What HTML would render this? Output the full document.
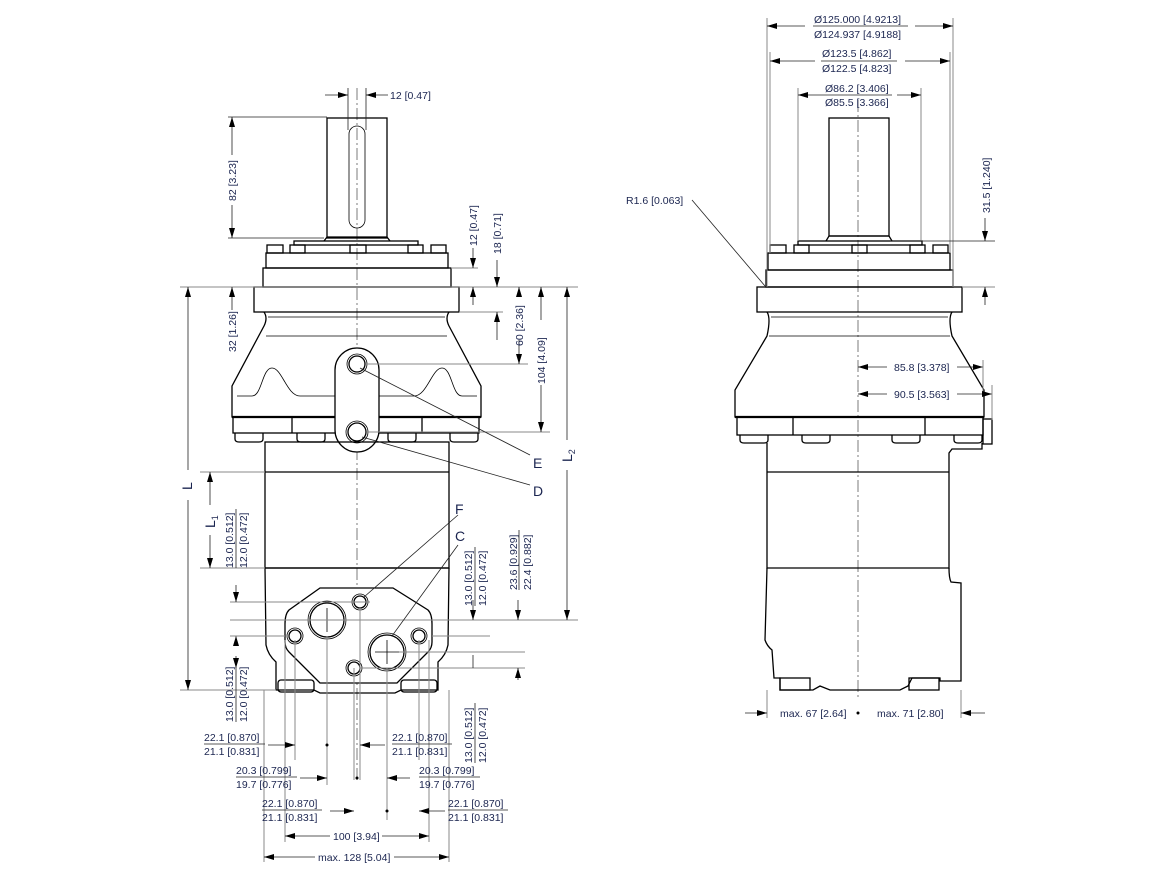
<!DOCTYPE html>
<html><head><meta charset="utf-8"><style>
html,body{margin:0;padding:0;background:#fff;}
svg{display:block;}
text{font-family:"Liberation Sans",sans-serif;font-size:10.5px;fill:#1b2550;}
.o{fill:none;stroke:#000;stroke-width:1.3;}
.t{fill:none;stroke:#000;stroke-width:2.2;}
.th{fill:none;stroke:#000;stroke-width:0.8;}
.d{fill:none;stroke:#8a8a8a;stroke-width:1;}
.dk{fill:none;stroke:#222;stroke-width:0.8;}
.c{fill:none;stroke:#444;stroke-width:0.7;stroke-dasharray:12 3 2 3;}
.big{font-size:14px;}
</style></head><body>
<svg width="1165" height="874" viewBox="0 0 1165 874" xmlns="http://www.w3.org/2000/svg">
<defs>
<marker id="a" viewBox="0 0 10 6" refX="10" refY="3" markerWidth="10" markerHeight="6" orient="auto-start-reverse" markerUnits="userSpaceOnUse"><path d="M0,0 L10,3 L0,6z" fill="#000"/></marker>
</defs>

<!-- ============ LEFT VIEW ============ -->
<line class="c" x1="357" y1="88" x2="357" y2="780"/>
<rect class="o" x="327" y="118" width="60" height="120"/>
<rect class="th" x="349" y="126" width="16" height="102" rx="8"/>
<path class="o" d="M324,241 L327,237 L387,237 L390,241"/>
<rect class="o" x="294" y="241" width="124" height="4"/>
<rect class="o" x="267" y="245" width="16" height="8"/><rect class="o" x="290" y="245" width="15" height="8"/>
<rect class="o" x="350" y="245" width="16" height="8"/><rect class="o" x="408" y="245" width="15" height="8"/>
<rect class="o" x="431" y="245" width="15" height="8"/>
<rect class="o" x="266" y="253" width="182" height="15"/>
<rect class="o" x="263" y="268" width="188" height="19"/>
<rect class="o" x="254" y="287" width="205" height="25"/>
<path class="o" d="M264,312 Q268,318 264,326 L232,386 L232,417 L481,417 L481,386 L449,326 Q445,318 449,312"/>
<line class="th" x1="268" y1="317" x2="445" y2="317"/>
<line class="th" x1="266" y1="336" x2="447" y2="336"/>
<path class="th" d="M237,396 L252,396 C262,396 262,368 272,368 C282,368 287,396 300,396 L335,396"/>
<path class="th" d="M379,396 L414,396 C427,396 432,368 442,368 C452,368 452,396 462,396 L477,396"/>
<line class="t" x1="232" y1="417" x2="481" y2="417"/>
<rect class="o" x="233" y="417" width="246" height="16"/>
<line class="o" x1="292" y1="417" x2="292" y2="433"/><line class="o" x1="422" y1="417" x2="422" y2="433"/>
<g class="o"><path d="M235,433 v6 q0,3 4,3 h20 q4,0 4,-3 v-6"/><path d="M297,433 v6 q0,3 4,3 h20 q4,0 4,-3 v-6"/><path d="M388,433 v6 q0,3 4,3 h20 q4,0 4,-3 v-6"/><path d="M450,433 v6 q0,3 4,3 h20 q4,0 4,-3 v-6"/></g>
<rect class="o" x="335" y="348" width="44" height="104" rx="22" style="fill:#fff"/>
<circle class="o" cx="357" cy="364" r="8"/><circle class="th" cx="357" cy="364" r="10"/>
<circle class="o" cx="357" cy="432" r="9"/><circle class="th" cx="357" cy="432" r="11"/>
<rect class="o" x="265" y="442" width="184" height="126"/>
<line class="o" x1="265" y1="472" x2="449" y2="472"/>
<line class="o" x1="265" y1="568" x2="449" y2="568"/>
<path class="o" d="M265,568 L266,645 Q268,655 276,662 L276,690 L314,690 L320,693 L395,693 L401,690 L438,690 L438,662 Q446,655 448,645 L449,568"/>
<path class="o" d="M320,588 L393,588 L428,610 Q432,614 432,624 L432,642 Q432,648 428,652 L397,683 L320,683 L289,652 Q285,648 285,642 L285,624 Q285,614 289,610 Z" style="fill:#fff"/>
<g class="o"><rect x="278" y="680" width="36" height="12" rx="3"/><rect x="401" y="680" width="36" height="12" rx="3"/></g>
<circle class="o" cx="327" cy="620" r="17"/><circle class="th" cx="327" cy="620" r="19"/>
<circle class="o" cx="387" cy="652" r="17"/><circle class="th" cx="387" cy="652" r="19"/>
<circle class="o" cx="360" cy="602" r="6"/><circle class="th" cx="360" cy="602" r="8"/>
<circle class="o" cx="354" cy="668" r="6"/><circle class="th" cx="354" cy="668" r="8"/>
<circle class="o" cx="295" cy="636" r="6"/><circle class="th" cx="295" cy="636" r="8"/>
<circle class="o" cx="419" cy="636" r="6"/><circle class="th" cx="419" cy="636" r="8"/>
<g class="th"><line x1="315" y1="620" x2="339" y2="620"/><line x1="327" y1="608" x2="327" y2="632"/><line x1="375" y1="652" x2="399" y2="652"/><line x1="387" y1="640" x2="387" y2="664"/></g>

<!-- left dims -->
<line class="dk" x1="348" y1="88" x2="348" y2="130"/><line class="dk" x1="366" y1="88" x2="366" y2="130"/>
<line class="dk" x1="325" y1="95" x2="348" y2="95" marker-end="url(#a)"/>
<line class="dk" x1="388" y1="95" x2="366" y2="95" marker-end="url(#a)"/>
<text x="390" y="99">12 [0.47]</text>
<line class="dk" x1="228" y1="117" x2="327" y2="117"/><line class="dk" x1="228" y1="238" x2="324" y2="238"/>
<line class="dk" x1="232" y1="155" x2="232" y2="117" marker-end="url(#a)"/><line class="dk" x1="232" y1="205" x2="232" y2="238" marker-end="url(#a)"/>
<text transform="translate(236,201) rotate(-90)">82 [3.23]</text>
<line class="d" x1="451" y1="268" x2="478" y2="268"/>
<line class="d" x1="180" y1="287" x2="578" y2="287"/>
<line class="dk" x1="473" y1="248" x2="473" y2="268" marker-end="url(#a)"/><line class="dk" x1="473" y1="305" x2="473" y2="287" marker-end="url(#a)"/>
<text transform="translate(477,246) rotate(-90)">12 [0.47]</text>
<line class="dk" x1="497" y1="260" x2="497" y2="287" marker-end="url(#a)"/>
<text transform="translate(501,254) rotate(-90)">18 [0.71]</text>
<line class="d" x1="459" y1="312" x2="503" y2="312"/>
<line class="dk" x1="497" y1="340" x2="497" y2="312" marker-end="url(#a)"/>
<line class="d" x1="367" y1="364" x2="528" y2="364"/>
<line class="dk" x1="519" y1="295" x2="519" y2="287" marker-end="url(#a)"/><line class="dk" x1="519" y1="340" x2="519" y2="364" marker-end="url(#a)"/>
<text transform="translate(523,346) rotate(-90)">60 [2.36]</text>
<line class="d" x1="367" y1="432" x2="550" y2="432"/>
<line class="dk" x1="541" y1="320" x2="541" y2="287" marker-end="url(#a)"/><line class="dk" x1="541" y1="385" x2="541" y2="432" marker-end="url(#a)"/>
<text transform="translate(545,384) rotate(-90)">104 [4.09]</text>
<line class="d" x1="449" y1="620" x2="578" y2="620"/>
<line class="dk" x1="567" y1="440" x2="567" y2="287" marker-end="url(#a)"/><line class="dk" x1="567" y1="470" x2="567" y2="620" marker-end="url(#a)"/>
<text class="big" transform="translate(572,462) rotate(-90)">L<tspan font-size="9" dy="3">2</tspan></text>
<line class="d" x1="180" y1="690" x2="276" y2="690"/>
<line class="dk" x1="188" y1="470" x2="188" y2="287" marker-end="url(#a)"/><line class="dk" x1="188" y1="500" x2="188" y2="690" marker-end="url(#a)"/>
<text class="big" transform="translate(192,490) rotate(-90)">L</text>
<line class="dk" x1="232" y1="310" x2="232" y2="287" marker-end="url(#a)"/>
<text transform="translate(236,352) rotate(-90)">32 [1.26]</text>
<line class="d" x1="200" y1="472" x2="265" y2="472"/><line class="d" x1="200" y1="568" x2="265" y2="568"/>
<line class="dk" x1="210" y1="505" x2="210" y2="472" marker-end="url(#a)"/><line class="dk" x1="210" y1="535" x2="210" y2="568" marker-end="url(#a)"/>
<text class="big" transform="translate(215,528) rotate(-90)">L<tspan font-size="9" dy="3">1</tspan></text>
<text transform="translate(233,568) rotate(-90)">13.0 [0.512]</text><line class="dk" x1="236" y1="509" x2="236" y2="568"/>
<text transform="translate(247,568) rotate(-90)">12.0 [0.472]</text>
<line class="d" x1="230" y1="602" x2="370" y2="602"/><line class="d" x1="230" y1="620" x2="480" y2="620"/>
<line class="dk" x1="236" y1="585" x2="236" y2="602" marker-end="url(#a)"/>
<line class="dk" x1="236" y1="645" x2="236" y2="636" marker-end="url(#a)"/>
<line class="d" x1="230" y1="636" x2="285" y2="636"/>
<line class="d" x1="432" y1="636" x2="490" y2="636"/>
<line class="d" x1="399" y1="652" x2="525" y2="652"/><line class="d" x1="360" y1="668" x2="525" y2="668"/>
<line class="dk" x1="473" y1="600" x2="473" y2="620" marker-end="url(#a)"/>
<text transform="translate(472,606) rotate(-90)">13.0 [0.512]</text><line class="dk" x1="475" y1="547" x2="475" y2="606"/>
<text transform="translate(486,606) rotate(-90)">12.0 [0.472]</text>
<line class="dk" x1="518" y1="600" x2="518" y2="620" marker-end="url(#a)"/>
<line class="dk" x1="518" y1="680" x2="518" y2="668" marker-end="url(#a)"/>
<text transform="translate(517,590) rotate(-90)">23.6 [0.929]</text><line class="dk" x1="519" y1="530" x2="519" y2="590"/>
<text transform="translate(531,590) rotate(-90)">22.4 [0.882]</text>
<line class="dk" x1="473" y1="655" x2="473" y2="668"/>
<text transform="translate(472,763) rotate(-90)">13.0 [0.512]</text><line class="dk" x1="475" y1="703" x2="475" y2="763"/>
<text transform="translate(486,763) rotate(-90)">12.0 [0.472]</text>
<text transform="translate(233,722) rotate(-90)">13.0 [0.512]</text><line class="dk" x1="236" y1="662" x2="236" y2="722"/>
<text transform="translate(247,722) rotate(-90)">12.0 [0.472]</text>
<line class="dk" x1="236" y1="656" x2="236" y2="668" marker-end="url(#a)"/>
<g class="d"><line x1="264" y1="690" x2="264" y2="862"/><line x1="449" y1="690" x2="449" y2="862"/>
<line x1="285" y1="640" x2="285" y2="842"/><line x1="429" y1="640" x2="429" y2="842"/>
<line x1="295" y1="640" x2="295" y2="760"/><line x1="419" y1="640" x2="419" y2="760"/>
<line x1="327" y1="636" x2="327" y2="785"/><line x1="387" y1="668" x2="387" y2="820"/>
<line x1="354" y1="668" x2="354" y2="780"/><line x1="360" y1="608" x2="360" y2="780"/></g>
<line class="dk" x1="268" y1="745" x2="295" y2="745" marker-end="url(#a)"/><circle cx="327" cy="745" r="1.5"/>
<line class="dk" x1="385" y1="745" x2="360" y2="745" marker-end="url(#a)"/>
<line class="dk" x1="300" y1="778" x2="327" y2="778" marker-end="url(#a)"/><circle cx="357" cy="778" r="1.5"/>
<line class="dk" x1="410" y1="778" x2="387" y2="778" marker-end="url(#a)"/>
<line class="dk" x1="330" y1="811" x2="354" y2="811" marker-end="url(#a)"/><circle cx="387" cy="811" r="1.5"/>
<line class="dk" x1="445" y1="811" x2="419" y2="811" marker-end="url(#a)"/>
<g>
<text x="204" y="741">22.1 [0.870]</text><line class="dk" x1="204" y1="744" x2="265" y2="744"/><text x="204" y="755">21.1 [0.831]</text>
<text x="392" y="741">22.1 [0.870]</text><line class="dk" x1="392" y1="744" x2="452" y2="744"/><text x="392" y="755">21.1 [0.831]</text>
<text x="236" y="774">20.3 [0.799]</text><line class="dk" x1="236" y1="777" x2="297" y2="777"/><text x="236" y="788">19.7 [0.776]</text>
<text x="419" y="774">20.3 [0.799]</text><line class="dk" x1="419" y1="777" x2="480" y2="777"/><text x="419" y="788">19.7 [0.776]</text>
<text x="262" y="807">22.1 [0.870]</text><line class="dk" x1="262" y1="810" x2="322" y2="810"/><text x="262" y="821">21.1 [0.831]</text>
<text x="448" y="807">22.1 [0.870]</text><line class="dk" x1="448" y1="810" x2="508" y2="810"/><text x="448" y="821">21.1 [0.831]</text>
</g>
<line class="dk" x1="330" y1="836" x2="285" y2="836" marker-end="url(#a)"/><line class="dk" x1="382" y1="836" x2="429" y2="836" marker-end="url(#a)"/>
<text x="333" y="840">100 [3.94]</text>
<line class="dk" x1="315" y1="857" x2="264" y2="857" marker-end="url(#a)"/><line class="dk" x1="394" y1="857" x2="449" y2="857" marker-end="url(#a)"/>
<text x="318" y="861">max. 128 [5.04]</text>
<g class="dk"><line x1="360" y1="368" x2="530" y2="455"/><line x1="362" y1="437" x2="530" y2="485"/>
<line x1="364" y1="597" x2="458" y2="515"/><line x1="392" y1="636" x2="458" y2="545"/></g>
<text class="big" x="533" y="468">E</text><text class="big" x="533" y="496">D</text>
<text class="big" x="455" y="514">F</text><text class="big" x="455" y="541">C</text>

<!-- ============ RIGHT VIEW ============ -->
<line class="c" x1="858" y1="100" x2="858" y2="700"/>
<rect class="o" x="829" y="118" width="60" height="118"/>
<path class="o" d="M826,241 L829,236 L889,236 L892,241"/>
<rect class="o" x="798" y="241" width="124" height="4"/>
<rect class="o" x="770" y="245" width="16" height="8"/><rect class="o" x="794" y="245" width="15" height="8"/>
<rect class="o" x="852" y="245" width="15" height="8"/><rect class="o" x="910" y="245" width="15" height="8"/>
<rect class="o" x="933" y="245" width="15" height="8"/>
<rect class="o" x="768" y="253" width="182" height="17"/>
<rect class="o" x="766" y="270" width="187" height="17"/>
<rect class="o" x="757" y="287" width="205" height="25"/>
<path class="o" d="M767,312 Q771,318 767,336 L735,390 L735,417 L984,417 L984,390 L952,336 Q948,318 952,312"/>
<line class="th" x1="771" y1="317" x2="948" y2="317"/><line class="th" x1="769" y1="336" x2="950" y2="336"/>
<line class="t" x1="735" y1="417" x2="984" y2="417"/>
<rect class="o" x="737" y="417" width="246" height="18"/>
<line class="o" x1="793" y1="417" x2="793" y2="435"/><line class="o" x1="925" y1="417" x2="925" y2="435"/>
<rect class="o" x="983" y="419" width="9" height="25"/>
<g class="o"><path d="M740,435 v5 q0,3 4,3 h20 q4,0 4,-3 v-5"/><path d="M802,435 v5 q0,3 4,3 h20 q4,0 4,-3 v-5"/><path d="M892,435 v5 q0,3 4,3 h20 q4,0 4,-3 v-5"/><path d="M954,435 v5 q0,3 4,3 h20 q4,0 4,-3 v-5"/></g>
<path class="o" d="M767,443 L767,568 L949,568 L949,453 L952,449 L982,449 L982,443"/>
<line class="o" x1="767" y1="472" x2="949" y2="472"/>
<path class="o" d="M767,568 L765,640 Q767,646 772,650 L774,678 L780,678 L780,690 L813,690 L820,686 L830,690 L900,690 L908,686 L912,678 L940,678 L940,681 L961,681 L961,583 L951,582 Q949,578 949,568"/>
<rect class="o" x="780" y="678" width="30" height="12"/><rect class="o" x="909" y="678" width="30" height="12"/>
<g class="d"><line x1="767" y1="18" x2="767" y2="287"/><line x1="953" y1="18" x2="953" y2="287"/>
<line x1="770" y1="52" x2="770" y2="253"/><line x1="950" y1="52" x2="950" y2="253"/>
<line x1="798" y1="88" x2="798" y2="241"/><line x1="921" y1="88" x2="921" y2="241"/></g>
<line class="dk" x1="805" y1="26" x2="767" y2="26" marker-end="url(#a)"/><line class="dk" x1="915" y1="26" x2="953" y2="26" marker-end="url(#a)"/>
<text x="814" y="23">Ø125.000 [4.9213]</text><line class="dk" x1="813" y1="26" x2="908" y2="26"/><text x="814" y="38">Ø124.937 [4.9188]</text>
<line class="dk" x1="815" y1="61" x2="770" y2="61" marker-end="url(#a)"/><line class="dk" x1="905" y1="61" x2="950" y2="61" marker-end="url(#a)"/>
<text x="822" y="57">Ø123.5 [4.862]</text><line class="dk" x1="821" y1="61" x2="897" y2="61"/><text x="822" y="72">Ø122.5 [4.823]</text>
<line class="dk" x1="824" y1="95" x2="798" y2="95" marker-end="url(#a)"/><line class="dk" x1="897" y1="95" x2="921" y2="95" marker-end="url(#a)"/>
<text x="825" y="92">Ø86.2 [3.406]</text><line class="dk" x1="824" y1="95" x2="892" y2="95"/><text x="825" y="106">Ø85.5 [3.366]</text>
<line class="dk" x1="890" y1="241" x2="995" y2="241"/>
<line class="dk" x1="985" y1="218" x2="985" y2="241" marker-end="url(#a)"/>
<text transform="translate(990,213) rotate(-90)">31.5 [1.240]</text>
<line class="d" x1="962" y1="287" x2="995" y2="287"/>
<line class="dk" x1="985" y1="305" x2="985" y2="287" marker-end="url(#a)"/>
<text x="626" y="204">R1.6 [0.063]</text>
<line class="dk" x1="692" y1="200" x2="765" y2="286"/>
<line class="dk" x1="887" y1="367" x2="858" y2="367" marker-end="url(#a)"/><line class="dk" x1="957" y1="367" x2="983" y2="367" marker-end="url(#a)"/>
<text x="894" y="371">85.8 [3.378]</text>
<line class="d" x1="983" y1="360" x2="983" y2="395"/>
<line class="dk" x1="887" y1="394" x2="858" y2="394" marker-end="url(#a)"/><line class="dk" x1="957" y1="394" x2="992" y2="394" marker-end="url(#a)"/>
<text x="894" y="398">90.5 [3.563]</text>
<line class="d" x1="992" y1="385" x2="992" y2="420"/>
<line class="d" x1="767" y1="690" x2="767" y2="718"/><line class="d" x1="961" y1="690" x2="961" y2="718"/>
<line class="dk" x1="745" y1="713" x2="767" y2="713" marker-end="url(#a)"/><line class="dk" x1="985" y1="713" x2="961" y2="713" marker-end="url(#a)"/>
<text x="780" y="717">max. 67 [2.64]</text><circle cx="858" cy="713" r="1.5"/>
<text x="877" y="717">max. 71 [2.80]</text>
</svg>
</body></html>
